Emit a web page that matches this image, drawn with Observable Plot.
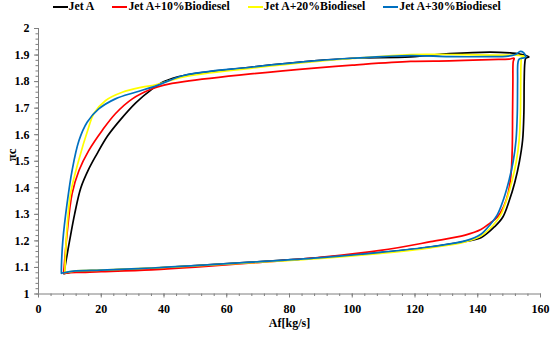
<!DOCTYPE html>
<html>
<head>
<meta charset="utf-8">
<script src="https://cdn.jsdelivr.net/npm/d3@7"></script>
<script src="https://cdn.jsdelivr.net/npm/@observablehq/plot@0.6"></script>
<style>
  html, body { margin: 0; padding: 0; background: #fff; }
  #wrap { position: relative; width: 550px; height: 337px; font-family: "Liberation Serif", serif; font-weight: bold; }
  #legend { position: absolute; z-index: 2; top: 0; left: 52.5px; display: flex; gap: 18px; font-size: 11.8px; line-height: 13px; white-space: nowrap; }
  #legend .item { display: flex; align-items: center; }
  #legend .sw { width: 15px; height: 2px; margin-right: 1px; }
</style>
</head>
<body>
<div id="wrap"><div id="legend"></div></div>
<script>
const categories = ["Jet A", "Jet A+10%Biodiesel", "Jet A+20%Biodiesel", "Jet A+30%Biodiesel"];
const colors = ["#000000", "#ff0000", "#ffff00", "#0070c0"];
const xTicks = [0, 20, 40, 60, 80, 100, 120, 140, 160];
const yTicks = [1, 1.1, 1.2, 1.3, 1.4, 1.5, 1.6, 1.7, 1.8, 1.9, 2];
const xLabel = "Af[kg/s]";
const yLabel = "πc";

const jetA_x = [8.1, 12, 20, 36, 50, 68, 89, 109, 125, 136, 141, 145.5, 148, 150, 151.8, 153.3, 154.3, 154.7, 154.8, 155, 155.3, 156.3, 153, 150.4, 144, 131, 118.6, 100, 88.8, 67.6, 46.3, 40, 36, 31, 26, 22, 18.5, 16, 13.5, 11.5, 9.9, 8.7, 8.1];
const jetA_y = [1.077, 1.085, 1.089, 1.097, 1.107, 1.12, 1.136, 1.156, 1.177, 1.198, 1.212, 1.255, 1.29, 1.35, 1.42, 1.5, 1.58, 1.68, 1.8, 1.87, 1.888, 1.893, 1.905, 1.908, 1.911, 1.905, 1.893, 1.888, 1.879, 1.854, 1.823, 1.80, 1.77, 1.72, 1.655, 1.595, 1.525, 1.47, 1.4, 1.3, 1.2, 1.12, 1.077];

const bio10_x = [8, 12, 20, 36, 50, 68, 89, 109, 125, 136, 141, 144, 146.3, 148.3, 149.7, 150.6, 151, 151.1, 151.2, 151.3, 151.6, 150, 144, 131, 118.6, 100, 88.8, 67.6, 46.3, 40, 36.2, 29.9, 24.5, 20.3, 16, 12.9, 10.7, 9.1, 8.3, 8];
const bio10_y = [1.078, 1.081, 1.084, 1.091, 1.101, 1.117, 1.137, 1.164, 1.197, 1.222, 1.243, 1.268, 1.29, 1.33, 1.38, 1.45, 1.55, 1.68, 1.8, 1.875, 1.888, 1.885, 1.883, 1.878, 1.876, 1.862, 1.852, 1.829, 1.80, 1.787, 1.773, 1.735, 1.679, 1.616, 1.54, 1.465, 1.377, 1.227, 1.12, 1.078];

const bio20_x = [8.4, 12, 20, 36, 50, 68, 89, 109, 125, 136, 141, 144.8, 147.2, 149.2, 150.9, 152.3, 153.2, 153.6, 153.7, 153.8, 154, 155, 152, 150, 144, 131, 118.6, 100, 88.8, 67.6, 46.3, 37.3, 33, 26.7, 21.4, 17.6, 16, 12.8, 10.2, 9.1, 8.6, 8.4];
const bio20_y = [1.08, 1.087, 1.09, 1.098, 1.106, 1.118, 1.133, 1.153, 1.174, 1.196, 1.218, 1.258, 1.295, 1.355, 1.425, 1.5, 1.58, 1.68, 1.8, 1.87, 1.89, 1.895, 1.9, 1.9, 1.9, 1.902, 1.902, 1.887, 1.876, 1.85, 1.818, 1.788, 1.779, 1.76, 1.729, 1.679, 1.628, 1.503, 1.377, 1.25, 1.15, 1.08];

const bio30_x = [7.3, 12, 20, 36, 50, 68, 89, 109, 125, 136, 141, 144, 146.3, 148.3, 150, 151.3, 152.2, 152.6, 152.7, 152.8, 153.2, 155.3, 154.5, 153.6, 152, 149, 144, 131, 118.6, 100, 88.8, 67.6, 46.3, 37.3, 30.9, 24.5, 19.2, 15.5, 12.9, 10.7, 9.1, 7.75, 7.3, 7.3];
const bio30_y = [1.078, 1.087, 1.09, 1.098, 1.107, 1.12, 1.136, 1.157, 1.178, 1.2, 1.225, 1.262, 1.3, 1.36, 1.43, 1.5, 1.58, 1.68, 1.8, 1.87, 1.885, 1.892, 1.91, 1.914, 1.902, 1.895, 1.894, 1.894, 1.898, 1.888, 1.879, 1.854, 1.823, 1.783, 1.76, 1.735, 1.697, 1.647, 1.578, 1.465, 1.34, 1.2, 1.1, 1.078];

const seriesX = [jetA_x, bio10_x, bio20_x, bio30_x];
const seriesY = [jetA_y, bio10_y, bio20_y, bio30_y];
const rows = categories.flatMap((name, k) => seriesX[k].map((x, i) => ({name, x, y: seriesY[k][i]})));

const xMinor = d3.range(0, 160.001, 4);
const yMinor = d3.range(0, 51).map(i => +(1 + i * 0.02).toFixed(2));
const axisGray = "#7f7f7f";

const chart = Plot.plot({
  width: 550,
  height: 337,
  marginLeft: 38,
  marginRight: 10,
  marginTop: 28,
  marginBottom: 43.5,
  style: {fontFamily: "'Liberation Serif', serif", fontWeight: "bold", fontSize: "12px", background: "#fff", color: "#000", overflow: "visible"},
  x: {domain: [0, 160]},
  y: {domain: [1, 2]},
  color: {domain: categories, range: colors},
  marks: [
    Plot.axisX(xMinor, {tickSize: 2.5, stroke: axisGray, label: null, tickFormat: () => ""}),
    Plot.axisX(xTicks, {tickSize: 4, tickPadding: 6, stroke: axisGray, fill: "#000", label: null, tickFormat: d => String(d)}),
    Plot.axisY(yMinor, {tickSize: 2.5, stroke: axisGray, label: null, tickFormat: () => ""}),
    Plot.axisY(yTicks, {tickSize: 4, tickPadding: 5, stroke: axisGray, fill: "#000", label: null, tickFormat: d => String(+d.toFixed(1))}),
    Plot.ruleX([0], {stroke: axisGray}),
    Plot.ruleY([1], {stroke: axisGray}),
    Plot.line(rows, {x: "x", y: "y", z: "name", stroke: "name", strokeWidth: 1.7, curve: "catmull-rom"}),
    Plot.text([xLabel], {text: d => d, frameAnchor: "bottom", dy: 33, fontSize: 12}),
    Plot.text([yLabel], {text: d => d, frameAnchor: "left", dx: -27, rotate: -90, fontSize: 13})
  ]
});
chart.style.position = "absolute";
chart.style.left = "0";
chart.style.top = "0";
chart.style.zIndex = "1";
document.getElementById("wrap").appendChild(chart);

const legend = document.getElementById("legend");
categories.forEach((c, i) => {
  const item = document.createElement("div");
  item.className = "item";
  const sw = document.createElement("span");
  sw.className = "sw";
  sw.style.background = colors[i];
  const t = document.createElement("span");
  t.textContent = c;
  item.appendChild(sw);
  item.appendChild(t);
  legend.appendChild(item);
});
</script>
</body>
</html>
